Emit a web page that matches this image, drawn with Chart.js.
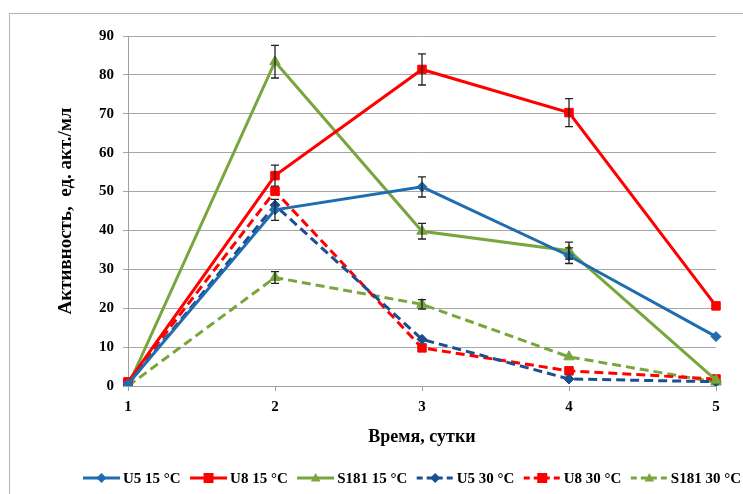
<!DOCTYPE html>
<html><head><meta charset="utf-8">
<script src="https://cdn.jsdelivr.net/npm/chart.js@4/dist/chart.umd.min.js"></script>
<style>html,body{margin:0;padding:0;background:#fff}#wrap{width:743px;height:494px;position:relative;overflow:hidden}</style>
</head><body><div id="wrap"><canvas id="c" width="743" height="494"></canvas></div>
<script>
const days = ['1', '2', '3', '4', '5'];
const seriesNames = ['U5 15 °C', 'U8 15 °C', 'S181 15 °C', 'U5 30 °C', 'U8 30 °C', 'S181 30 °C'];
const u5_15   = [0.5, 45.3, 51.2, 33.5, 12.7];
const u8_15   = [1.0, 54.1, 81.4, 70.3, 20.6];
const s181_15 = [0.0, 83.4, 39.8, 34.8, 1.5];
const u5_30   = [0.5, 46.5, 12.0, 1.8, 1.1];
const u8_30   = [1.0, 50.1, 9.8, 3.9, 1.8];
const s181_30 = [0.0, 27.9, 21.0, 7.5, 1.0];
const err_u5_15   = [0, 2.7, 2.6, 2.0, 0];
const err_u8_15   = [0, 2.7, 4.0, 3.6, 0];
const err_s181_15 = [0, 4.2, 2.0, 2.2, 0];
const err_u5_30   = [0, 0, 0, 0, 0];
const err_u8_30   = [0, 0, 0, 0, 0];
const err_s181_30 = [0, 1.5, 1.2, 0, 0];
const yMin = 0, yMax = 90, yStep = 10;

const BLUE = '#1f6db0', DBLUE = '#1c4f8f', RED = '#ff0000', GREEN = '#78a63c';
const FONT = '"Liberation Serif", "Times New Roman", serif';

function ds(label, data, err, color, style, dashed) {
  return {
    label, data, err,
    borderColor: color, backgroundColor: color,
    borderWidth: 3, borderDash: dashed ? [9, 5] : [],
    pointStyle: style, pointRadius: style === 'rect' ? 6 : (style === 'triangle' ? 6 : 5),
    pointBorderWidth: 1, pointBorderColor: color, pointBackgroundColor: color,
    tension: 0, fill: false
  };
}

const errorBars = {
  id: 'errorBars',
  afterDatasetsDraw(chart) {
    const ctx = chart.ctx, y = chart.scales.y;
    ctx.save();
    ctx.strokeStyle = '#222'; ctx.lineWidth = 1.3; ctx.setLineDash([]);
    chart.data.datasets.forEach((d, i) => {
      const meta = chart.getDatasetMeta(i);
      d.err.forEach((e, j) => {
        if (!e) return;
        const px = meta.data[j].x;
        const t = y.getPixelForValue(d.data[j] + e), b = y.getPixelForValue(d.data[j] - e);
        ctx.beginPath();
        ctx.moveTo(px, t); ctx.lineTo(px, b);
        ctx.moveTo(px - 4, t); ctx.lineTo(px + 4, t);
        ctx.moveTo(px - 4, b); ctx.lineTo(px + 4, b);
        ctx.stroke();
      });
    });
    ctx.restore();
  }
};

function drawMarker(ctx, style, x, y, r, color) {
  ctx.fillStyle = color;
  ctx.beginPath();
  if (style === 'rect') { ctx.rect(x - r, y - r, 2 * r, 2 * r); }
  else if (style === 'rectRot') { ctx.moveTo(x, y - r); ctx.lineTo(x + r, y); ctx.lineTo(x, y + r); ctx.lineTo(x - r, y); ctx.closePath(); }
  else { ctx.moveTo(x, y - r); ctx.lineTo(x + r * 0.95, y + r * 0.7); ctx.lineTo(x - r * 0.95, y + r * 0.7); ctx.closePath(); }
  ctx.fill();
}

const frameAndLegend = {
  id: 'frameAndLegend',
  beforeDraw(chart) {
    const ctx = chart.ctx;
    ctx.save();
    ctx.fillStyle = '#fff'; ctx.fillRect(0, 0, chart.width, chart.height);
    ctx.strokeStyle = '#b4b4b4'; ctx.lineWidth = 1;
    ctx.strokeRect(9.5, 13.5, chart.width + 20, chart.height + 20);
    ctx.restore();
  },
  afterDraw(chart) {
    const ctx = chart.ctx;
    ctx.save();
    ctx.font = 'bold 15px ' + FONT;
    ctx.textBaseline = 'middle';
    const sets = chart.data.datasets;
    const startX = 83, endX = 741, yy = 478, sym = 37, sp = 3;
    let used = 0;
    sets.forEach(d => { used += sym + sp + ctx.measureText(d.label).width; });
    const gap = (endX - startX - used) / (sets.length - 1);
    let x = startX;
    sets.forEach((d) => {
      ctx.strokeStyle = d.borderColor; ctx.lineWidth = 3;
      ctx.setLineDash(d.borderDash.length ? [6, 4] : []);
      ctx.beginPath(); ctx.moveTo(x, yy); ctx.lineTo(x + sym, yy); ctx.stroke();
      ctx.setLineDash([]);
      drawMarker(ctx, d.pointStyle, x + sym / 2, yy, 5, d.borderColor);
      ctx.fillStyle = '#000';
      ctx.fillText(d.label, x + sym + sp, yy + 1);
      x += sym + sp + ctx.measureText(d.label).width + gap;
    });
    ctx.restore();
  }
};

new Chart(document.getElementById('c'), {
  type: 'line',
  data: {
    labels: days,
    datasets: [
      ds(seriesNames[0], u5_15, err_u5_15, BLUE, 'rectRot', false),
      ds(seriesNames[1], u8_15, err_u8_15, RED, 'rect', false),
      ds(seriesNames[2], s181_15, err_s181_15, GREEN, 'triangle', false),
      ds(seriesNames[3], u5_30, err_u5_30, DBLUE, 'rectRot', true),
      ds(seriesNames[4], u8_30, err_u8_30, RED, 'rect', true),
      ds(seriesNames[5], s181_30, err_s181_30, GREEN, 'triangle', true)
    ]
  },
  options: {
    responsive: false, animation: false, devicePixelRatio: 1,
    layout: { padding: { top: 36, right: 27, left: 0, bottom: 0 } },
    plugins: { legend: { display: false }, tooltip: { enabled: false } },
    scales: {
      x: {
        type: 'category', offset: false,
        grid: { display: true, drawOnChartArea: false, tickLength: 5, color: '#a0a0a0' },
        border: { color: '#a0a0a0' },
        ticks: { color: '#000', padding: 7, font: { family: FONT, size: 15, weight: 'bold' } },
        title: { display: true, text: 'Время, сутки', color: '#000', font: { family: FONT, size: 18, weight: 'bold' }, padding: { top: 0, bottom: 46 } },
        afterFit: s => { s.height = 108; }
      },
      y: {
        min: yMin, max: yMax,
        ticks: { stepSize: yStep, color: '#000', padding: 9, font: { family: FONT, size: 15, weight: 'bold' } },
        grid: { color: '#a6a6a6', tickLength: 5, lineWidth: 1 },
        border: { color: '#a0a0a0' },
        title: { display: true, text: 'Активность,  ед. акт./мл', color: '#000', font: { family: FONT, size: 19, weight: 'bold' }, padding: { top: 55, bottom: 0 } },
        afterFit: s => { s.width = 128; }
      }
    }
  },
  plugins: [frameAndLegend, errorBars]
});
</script></body></html>
